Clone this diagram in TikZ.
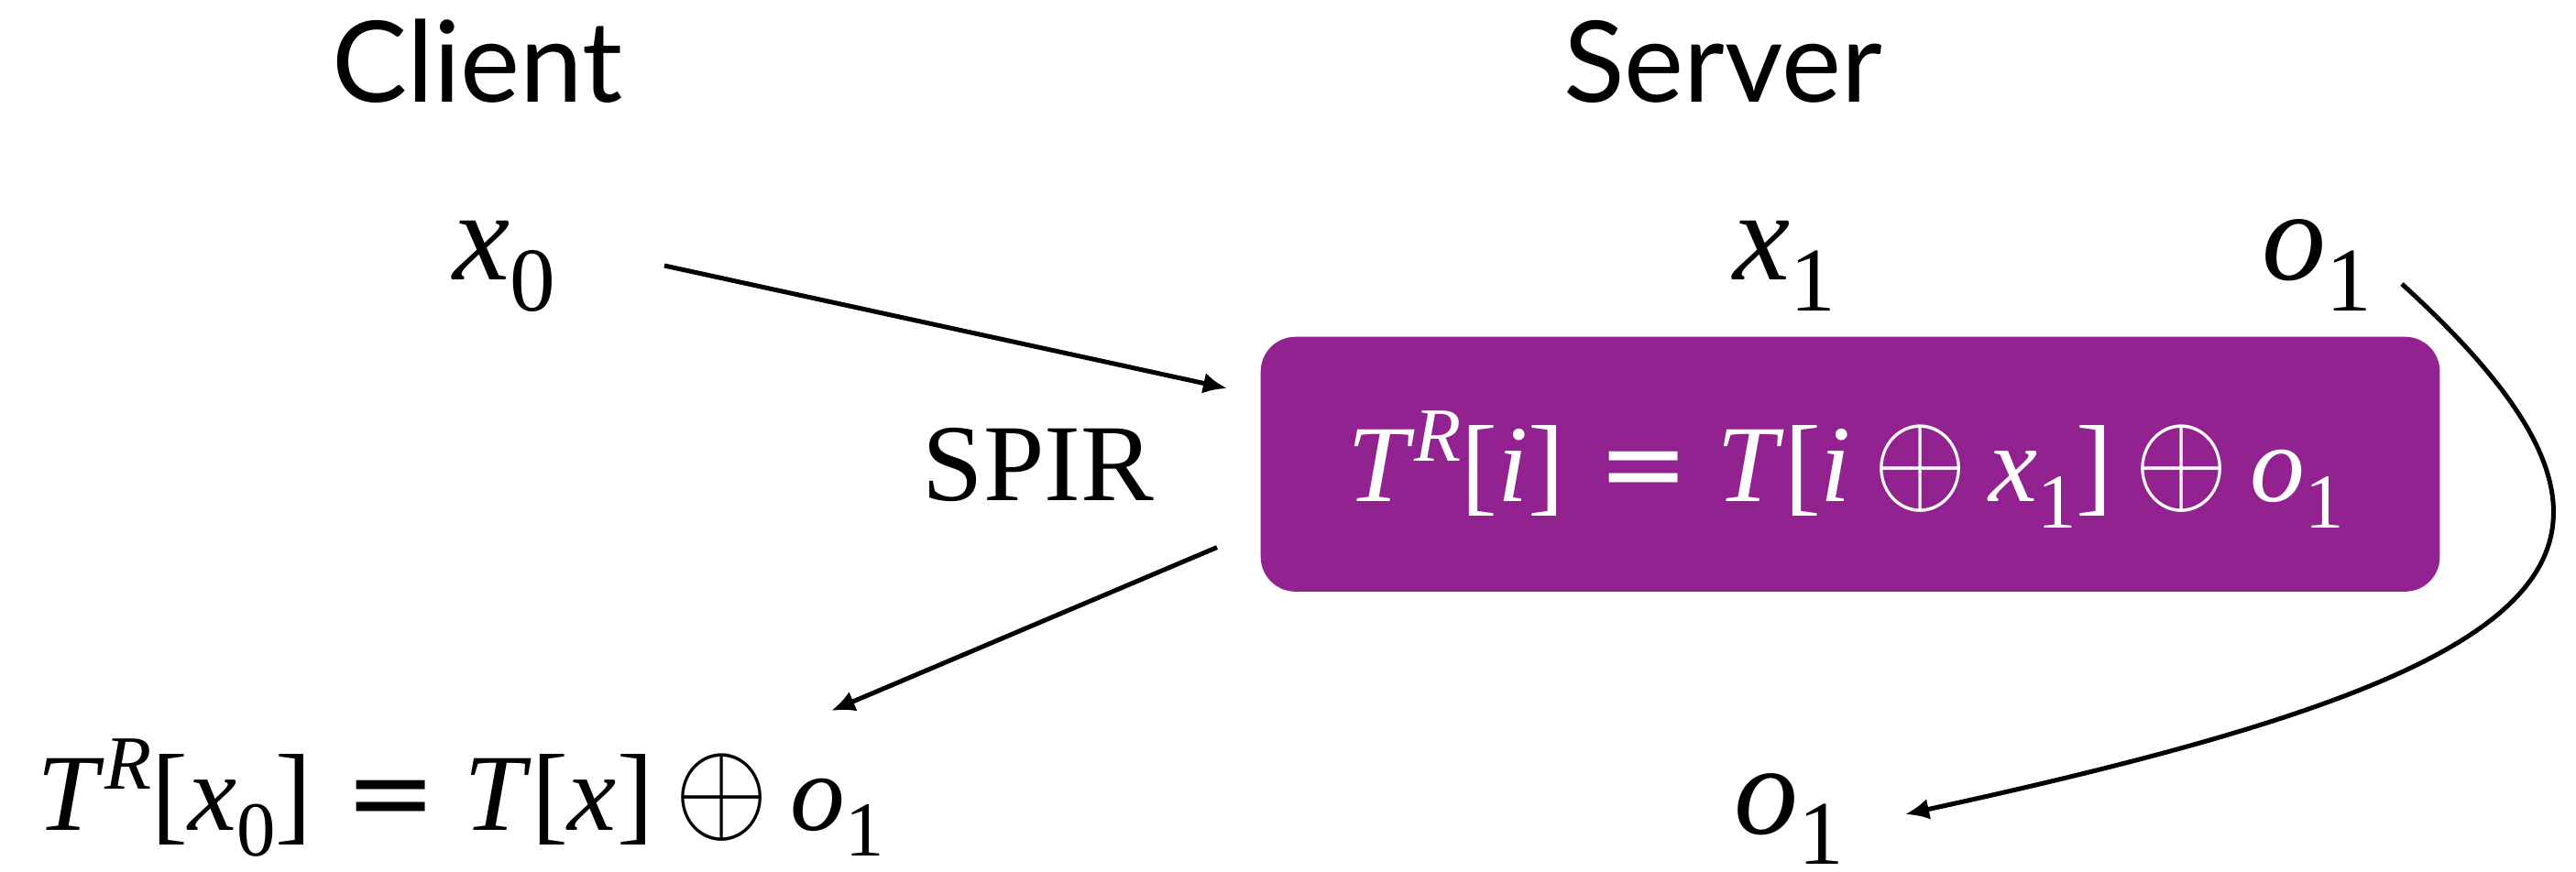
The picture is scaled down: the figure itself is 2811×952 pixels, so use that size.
\documentclass[tikz,border=0pt]{standalone}
\usepackage{fix-cm}
\usepackage{fontspec}
\setmainfont{Liberation Serif}
\setsansfont{Lato}
\newfontfamily\symf{DejaVu Sans}
\usetikzlibrary{arrows.meta,calc}
\definecolor{boxpurple}{RGB}{146,34,143}
% italic variable, lowered upright index, raised italic superscript
\newcommand\vv[1]{\textit{#1}}
\newcommand\sbs[1]{\raisebox{-0.24em}{\scalebox{0.71}{#1}}}
\newcommand\sps[1]{\raisebox{0.37em}{\scalebox{0.7}{\textit{#1}}}}
% operators with surrounding space
\newcommand\xo{\hspace{0.2em}\scalebox{1.1}[1.2]{$\oplus$}\hspace{0.2em}}
\newcommand\eqs{\hspace{0.3em}{\symf =}\hspace{0.25em}}
\begin{document}
\begin{tikzpicture}[x=0.01cm,y=-0.01cm,
  head/.style={inner sep=0pt, anchor=base, font=\sffamily\fontsize{35}{42}\selectfont},
  lbl/.style={inner sep=0pt, anchor=base, font=\fontsize{39.8}{46}\selectfont},
  eqn/.style={inner sep=0pt, anchor=base, font=\fontsize{34}{40}\selectfont},
  conn/.style={line width=0.05cm, -{Latex[length=0.26cm,width=0.23cm]}}]
\useasboundingbox (0,0) rectangle (2811,952);

% column headings
\node[head] (client) at (521,112) {Client};
\node[head] (server) at (1880,112) {Server};

% inputs
\node[lbl] (x0)  at (550,306)  {\vv{x}\sbs{0}};
\node[lbl] (x1)  at (1947,306) {\vv{x}\sbs{1}};
\node[lbl] (o1t) at (2528,306) {\vv{o}\sbs{1}};

% server-side table
\node[fill=boxpurple, rounded corners=0.38cm, minimum width=12.86cm,
      minimum height=2.78cm, inner sep=0pt, anchor=north west] (box) at (1375,367) {};
\node[eqn, text=white] (tbl) at (2014,548)
  {\vv{T}\sps{R}[\vv{i\/}]\eqs\vv{T}[\vv{i}\xo\vv{x}\sbs{1}]\xo\vv{o}\sbs{1}};

\node[eqn] (spir) at (1133,547) {SPIR};

% outputs
\node[eqn] (res) at (503,906)
  {\vv{T}\sps{R}[\vv{x}\sbs{0}]\eqs\vv{T}[\vv{x}]\xo\vv{o}\sbs{1}};
\node[lbl] (o1b) at (1952,910) {\vv{o}\sbs{1}};

% connectors
\draw[conn] ($(x0.base)+(175,-16)$) -- ($(box.north west)+(-36,57)$);
\draw[conn] ($(box.south west)+(-47,-49)$) -- ($(res.base)+(404,-130)$);
\draw[conn] ($(o1t.base)+(93,4)$) .. controls +(335,305) and +(703,-153) .. ($(o1b.base)+(127,-21)$);
\end{tikzpicture}
\end{document}
